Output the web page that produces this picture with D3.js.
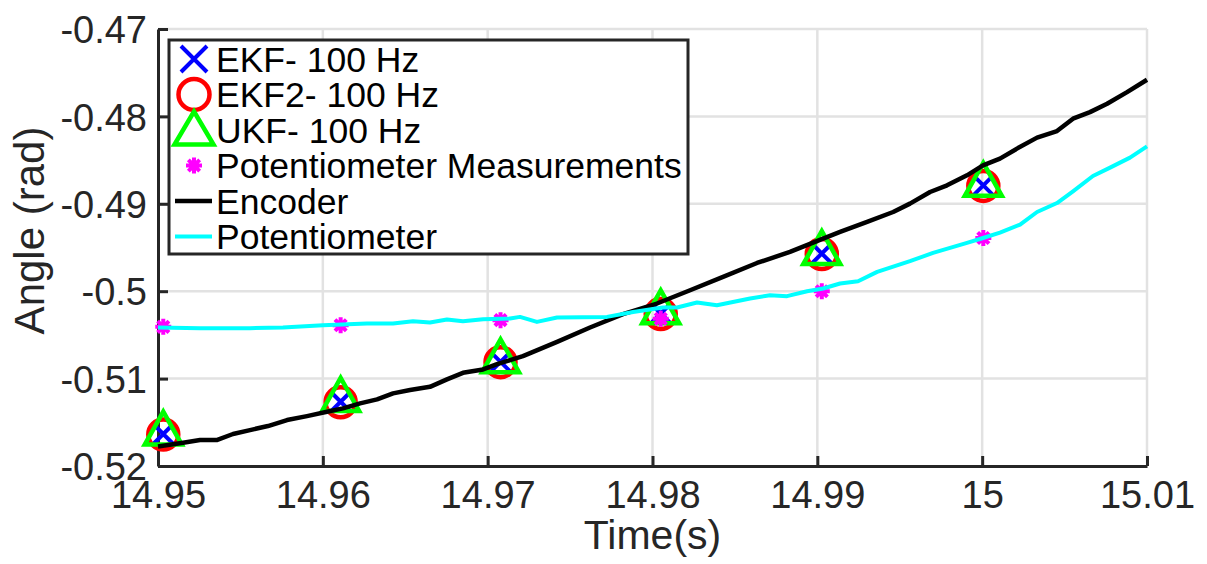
<!DOCTYPE html>
<html><head><meta charset="utf-8">
<script src="https://cdn.jsdelivr.net/npm/d3@7"></script>
<style>html,body{margin:0;padding:0;background:#fff;}svg{display:block;font-family:"Liberation Sans",Arial,Helvetica,sans-serif;}</style>
</head><body><svg id="c" width="1207" height="564"></svg>
<script>
// ---- data ----
const xTicks = [14.95, 14.96, 14.97, 14.98, 14.99, 15.00, 15.01];
const xTickLabels = ["14.95", "14.96", "14.97", "14.98", "14.99", "15", "15.01"];
const yTicks = [-0.47, -0.48, -0.49, -0.50, -0.51, -0.52];
const yTickLabels = ["-0.47", "-0.48", "-0.49", "-0.5", "-0.51", "-0.52"];

const sampleTime = [14.95032, 14.96108, 14.97078, 14.98050, 14.99027, 15.00007];
const ekf  = [-0.51634, -0.51265, -0.50808, -0.50255, -0.49569, -0.48789];
const ekf2 = [-0.51640, -0.51270, -0.50812, -0.50262, -0.49575, -0.48795];
const ukf  = [-0.51566, -0.51181, -0.50739, -0.50179, -0.49501, -0.48720];
const potMeas = [-0.50408, -0.50389, -0.50331, -0.50316, -0.50000, -0.49391];

const encTime = [14.95,14.95152,14.95255,14.95356,14.95455,14.95558,14.95667,14.95783,14.95904,14.96025,14.96122,14.96226,14.96329,14.96426,14.96529,14.96650,14.96753,14.96850,14.96972,14.97057,14.97136,14.97214,14.97421,14.97621,14.97821,14.98027,14.98228,14.98428,14.98634,14.98834,14.99035,14.99138,14.99302,14.99460,14.99562,14.99684,14.99787,14.99908,15.00005,15.00108,15.00211,15.00333,15.00454,15.00551,15.00654,15.00758,15.00879,15.01];
const encoder = [-0.51777,-0.51734,-0.51703,-0.51703,-0.51634,-0.51589,-0.51543,-0.51474,-0.51429,-0.51379,-0.51341,-0.51283,-0.51238,-0.51169,-0.51131,-0.51094,-0.51009,-0.50934,-0.50895,-0.50834,-0.50789,-0.50743,-0.50579,-0.50415,-0.50263,-0.50141,-0.49989,-0.49837,-0.49677,-0.49551,-0.49398,-0.49322,-0.49208,-0.49094,-0.48998,-0.48865,-0.48789,-0.48674,-0.48560,-0.48483,-0.48369,-0.48243,-0.48168,-0.48026,-0.47951,-0.47855,-0.47722,-0.47581];

const potTime = [14.95,14.95255,14.95558,14.95758,14.96001,14.96268,14.96426,14.96547,14.96650,14.96753,14.96850,14.96972,14.97136,14.97196,14.97299,14.97421,14.97724,14.97882,14.98064,14.98149,14.98270,14.98391,14.98592,14.98713,14.98816,14.98938,14.99035,14.99138,14.99247,14.99363,14.99562,14.99702,14.99908,15.00005,15.00108,15.00230,15.00333,15.00454,15.00551,15.00672,15.00776,15.00897,15.01];
const potentiometer = [-0.50415,-0.50423,-0.50423,-0.50415,-0.50389,-0.50369,-0.50369,-0.50343,-0.50358,-0.50323,-0.50343,-0.50320,-0.50312,-0.50294,-0.50351,-0.50301,-0.50294,-0.50237,-0.50186,-0.50186,-0.50129,-0.50160,-0.50083,-0.50046,-0.50057,-0.50000,-0.49969,-0.49912,-0.49886,-0.49779,-0.49657,-0.49562,-0.49448,-0.49391,-0.49329,-0.49238,-0.49094,-0.48991,-0.48857,-0.48682,-0.48586,-0.48472,-0.48343];

const legendLabels = ["EKF- 100 Hz","EKF2- 100 Hz","UKF- 100 Hz","Potentiometer Measurements","Encoder","Potentiometer"];

// ---- layout ----
const L = 158, R = 1147, T = 29, B = 466;
const svg = d3.select("#c");
const x = d3.scaleLinear().domain([14.95, 15.01]).range([L, R]);
const y = d3.scaleLinear().domain([-0.52, -0.47]).range([B, T]);
const axisCol = "#262626", gridCol = "#e2e2e2";

// grid
svg.append("g").selectAll("line").data(xTicks.slice(1)).join("line")
  .attr("x1", d => x(d)).attr("x2", d => x(d)).attr("y1", T).attr("y2", B)
  .attr("stroke", gridCol).attr("stroke-width", 2.5);
svg.append("g").selectAll("line").data(yTicks.slice(0, -1)).join("line")
  .attr("y1", d => y(d)).attr("y2", d => y(d)).attr("x1", L).attr("x2", R)
  .attr("stroke", gridCol).attr("stroke-width", 2.5);

// axes via d3 axes (inward ticks)
const xAxis = d3.axisBottom(x).tickValues(xTicks).tickSize(-10).tickSizeOuter(0)
  .tickFormat((d, i) => xTickLabels[i]);
const gx = svg.append("g").attr("transform", `translate(0,${B})`).call(xAxis);
const yAxis = d3.axisLeft(y).tickValues(yTicks).tickSize(-10).tickSizeOuter(0)
  .tickFormat((d, i) => yTickLabels[i]).tickPadding(11);
const gy = svg.append("g").attr("transform", `translate(${L},0)`).call(yAxis);
[gx, gy].forEach(g => {
  g.select(".domain").attr("stroke", axisCol).attr("stroke-width", 3);
  g.selectAll(".tick line").attr("stroke", axisCol).attr("stroke-width", 3);
  g.selectAll(".tick text").attr("fill", axisCol).style("font-size", "38px")
    .style("font-family", '"Liberation Sans", Arial, sans-serif');
});
gx.selectAll(".tick text").attr("dy", null).attr("y", 42);
gy.selectAll(".tick text").attr("dy", "0.36em");

// axis labels
svg.append("text").attr("x", (L + R) / 2).attr("y", 549).attr("text-anchor", "middle")
  .attr("fill", axisCol).style("font-size", "41px").text("Time(s)");
svg.append("text").attr("transform", `translate(44,${(T + B) / 2 - 17}) rotate(-90)`)
  .attr("text-anchor", "middle").attr("fill", axisCol).style("font-size", "42px").text("Angle (rad)");

// marker helpers
const plot = svg.append("g");
const pts = vals => vals.map((v, i) => [sampleTime[i], v]);
function drawX(g, cx, cy, s) {
  g.append("path").attr("d", `M${cx - s},${cy - s}L${cx + s},${cy + s}M${cx - s},${cy + s}L${cx + s},${cy - s}`)
    .attr("stroke", "#0000ff").attr("stroke-width", 4).attr("fill", "none");
}
function drawO(g, cx, cy, r) {
  g.append("circle").attr("cx", cx).attr("cy", cy).attr("r", r)
    .attr("stroke", "#ff0000").attr("stroke-width", 4.5).attr("fill", "none");
}
function drawTri(g, cx, cy, w, h) {
  g.append("path").attr("d", `M${cx},${cy - h / 2}L${cx + w / 2},${cy + h / 2}L${cx - w / 2},${cy + h / 2}Z`)
    .attr("stroke", "#00ff00").attr("stroke-width", 4.5).attr("fill", "none").attr("stroke-linejoin", "miter");
}
function drawStar(g, cx, cy, s) {
  const d = [];
  for (let k = 0; k < 4; k++) {
    const a = k * Math.PI / 4;
    d.push(`M${cx - s * Math.cos(a)},${cy - s * Math.sin(a)}L${cx + s * Math.cos(a)},${cy + s * Math.sin(a)}`);
  }
  g.append("path").attr("d", d.join("")).attr("stroke", "#ff00ff").attr("stroke-width", 4).attr("fill", "none");
}

pts(ekf).forEach(p => drawX(plot, x(p[0]), y(p[1]), 11));
pts(ekf2).forEach(p => drawO(plot, x(p[0]), y(p[1]), 15));
pts(ukf).forEach(p => drawTri(plot, x(p[0]), y(p[1]), 37, 33));
pts(potMeas).forEach(p => drawStar(plot, x(p[0]), y(p[1]), 8));

const line = d3.line().x(d => x(d[0])).y(d => y(d[1]));
plot.append("path").datum(encTime.map((t, i) => [t, encoder[i]])).attr("d", line)
  .attr("stroke", "#000").attr("stroke-width", 4.5).attr("fill", "none").attr("stroke-linejoin", "round");
plot.append("path").datum(potTime.map((t, i) => [t, potentiometer[i]])).attr("d", line)
  .attr("stroke", "#00ffff").attr("stroke-width", 4).attr("fill", "none").attr("stroke-linejoin", "round");

// legend
const lg = svg.append("g");
lg.append("rect").attr("x", 169).attr("y", 40).attr("width", 519).attr("height", 214)
  .attr("fill", "#fff").attr("stroke", axisCol).attr("stroke-width", 3);
const rowY = i => 59 + i * 35.5;
legendLabels.forEach((lab, i) => {
  const cy = rowY(i), cx = 194;
  if (i === 0) drawX(lg, cx, cy, 13);
  if (i === 1) drawO(lg, cx, cy, 15.5);
  if (i === 2) drawTri(lg, cx, cy - 2, 39, 33);
  if (i === 3) drawStar(lg, cx, cy, 8);
  if (i === 4) lg.append("line").attr("x1", 175).attr("x2", 212).attr("y1", cy).attr("y2", cy).attr("stroke", "#000").attr("stroke-width", 4.5);
  if (i === 5) lg.append("line").attr("x1", 175).attr("x2", 212).attr("y1", cy).attr("y2", cy).attr("stroke", "#00ffff").attr("stroke-width", 4);
  lg.append("text").attr("x", 216).attr("y", cy).attr("dy", "0.36em").style("font-size", "35.5px")
    .attr("fill", "#000").text(lab);
});
</script></body></html>
